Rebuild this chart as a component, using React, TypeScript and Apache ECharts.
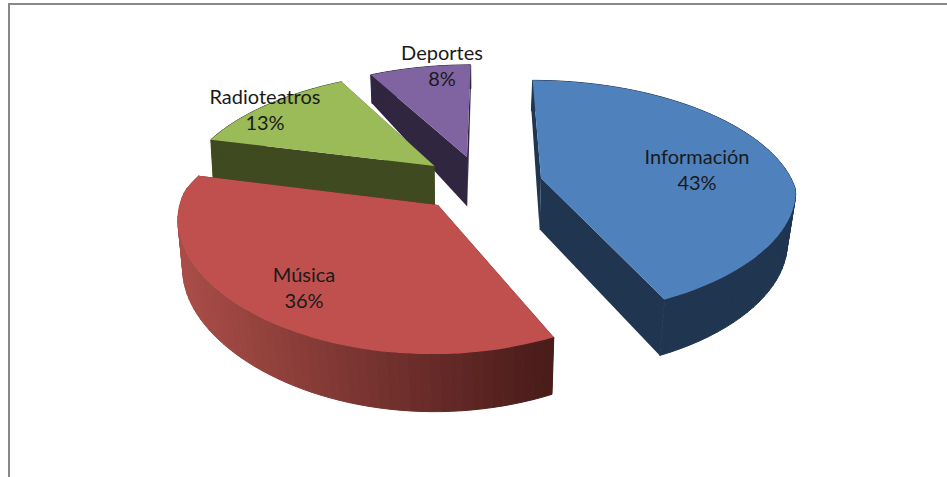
import React, { useEffect, useRef } from "react";
import * as echarts from "echarts";

const categories = ["Deportes", "Radioteatros", "Música", "Información"];
const values = [8, 13, 36, 43];

// Pie order clockwise from the top: Información, Música, Radioteatros, Deportes
const clockwiseOrder = [3, 2, 1, 0];
const topColors = ["#8064a2", "#9bbb59", "#c0504d", "#4f81bd"];
const wallColors = ["#302640", "#3f4a20", "#4a1c1a", "#1f3550"];
const apexes: number[][] = [[467, 157], [434.5, 166], [438, 205], [541, 178]];
const labelCenters: number[][] = [[442, 65], [265, 109], [304, 287], [697, 169]];

const CX = 490, CY = 190, S = 255, T = 118;

const wOfX = (y: number) => (y > 0 ? 1 + 0.2 * y : 1 + 0.1 * y);
const wOfY = (y: number) => 1 + 0.17 * y;
const depth = (y: number) => (y > 0 ? 52 - 5 * y - 13 * y * y : 52 - 5 * y);

const projTop = (X: number, Y: number) => [CX + (S * X) / wOfX(Y), CY - (T * Y) / wOfY(Y)];
const projBottom = (X: number, Y: number) => {
  const p = projTop(X, Y);
  const q = p[0] > CX ? 0.972 : 0.99 + 0.025 * Math.min(Y, 0);
  return [CX + (p[0] - CX) * q, p[1] + depth(Y)];
};
const unproject = (sx: number, sy: number) => {
  const v = (CY - sy) / T;
  const Y = v / (1 - 0.17 * v);
  return [((sx - CX) / S) * wOfX(Y), Y];
};

const total = values.reduce((a, b) => a + b, 0);
const sweep: Record<number, [number, number]> = {};
let running = 0;
clockwiseOrder.forEach((i) => {
  const from = (running / total) * 360;
  running += values[i];
  sweep[i] = [from, (running / total) * 360];
});

function arc(idx: number, fn: (X: number, Y: number) => number[]) {
  const [a, b] = sweep[idx];
  const [ax, ay] = unproject(apexes[idx][0], apexes[idx][1]);
  const pts: number[][] = [];
  for (let t = 0; t <= 60; t++) {
    const th = ((a + ((b - a) * t) / 60) * Math.PI) / 180;
    pts.push(fn(ax + Math.sin(th), ay + Math.cos(th)));
  }
  return pts;
}

// Shading of the red outer wall, left (lit) to right (dark)
const shadeLeft = [170, 77, 72];
const shadeRight = [74, 28, 26];
const shadeSpan = [178, 549];
function shadeAt(x: number) {
  const f = Math.max(0, Math.min(1, (x - shadeSpan[0]) / (shadeSpan[1] - shadeSpan[0])));
  const c = shadeLeft.map((l, i) => Math.round(l + (shadeRight[i] - l) * f));
  return `rgb(${c[0]},${c[1]},${c[2]})`;
}

function renderItem(_: any, api: any) {
  const idx = api.value(0);
  const [ax, ay] = unproject(apexes[idx][0], apexes[idx][1]);
  const top = arc(idx, projTop);
  const bot = arc(idx, projBottom);
  const apexT = projTop(ax, ay);
  const apexB = projBottom(ax, ay);
  const wall = wallColors[idx];
  const last = top.length - 1;
  const poly = (points: number[][], fill: string, stroke?: string) => ({
    type: "polygon",
    shape: { points },
    style: stroke ? { fill, stroke, lineWidth: 1 } : { fill },
  });
  const strips = top.slice(0, last).map((p, t) => {
    const color = idx === 2 ? shadeAt(p[0]) : wall;
    return poly([p, top[t + 1], bot[t + 1], bot[t]], color, color);
  });
  const pct = Math.round((api.value(1) / total) * 100);
  return {
    type: "group",
    children: [
      poly([apexT, top[0], bot[0], apexB], wall),
      poly([apexT, top[last], bot[last], apexB], wall),
      ...strips,
      poly([apexT, ...top], topColors[idx]),
      {
        type: "text",
        z2: 10,
        style: {
          x: labelCenters[idx][0],
          y: labelCenters[idx][1],
          text: `${categories[idx]}\n${pct}%`,
          align: "center",
          verticalAlign: "middle",
          fontFamily: "Lato",
          fontSize: 20,
          lineHeight: 26,
          fill: "#1a1a1a",
        },
      },
    ],
  };
}

export default function App() {
  const ref = useRef<HTMLDivElement>(null);
  useEffect(() => {
    const chart = echarts.init(ref.current!, undefined, { renderer: "svg" });
    chart.setOption({
      animation: false,
      backgroundColor: "#ffffff",
      graphic: [
        { type: "line", silent: true, shape: { x1: 8, y1: 4, x2: 947, y2: 4 }, style: { stroke: "#888888", lineWidth: 2 } },
        { type: "line", silent: true, shape: { x1: 9, y1: 3, x2: 9, y2: 477 }, style: { stroke: "#888888", lineWidth: 2 } },
      ],
      series: [
        {
          type: "custom",
          coordinateSystem: "none",
          silent: true,
          renderItem,
          data: values.map((v, i) => [i, v]),
        },
      ],
    });
    return () => chart.dispose();
  }, []);
  return <div ref={ref} style={{ position: "fixed", left: 0, top: 0, width: 947, height: 477 }} />;
}
